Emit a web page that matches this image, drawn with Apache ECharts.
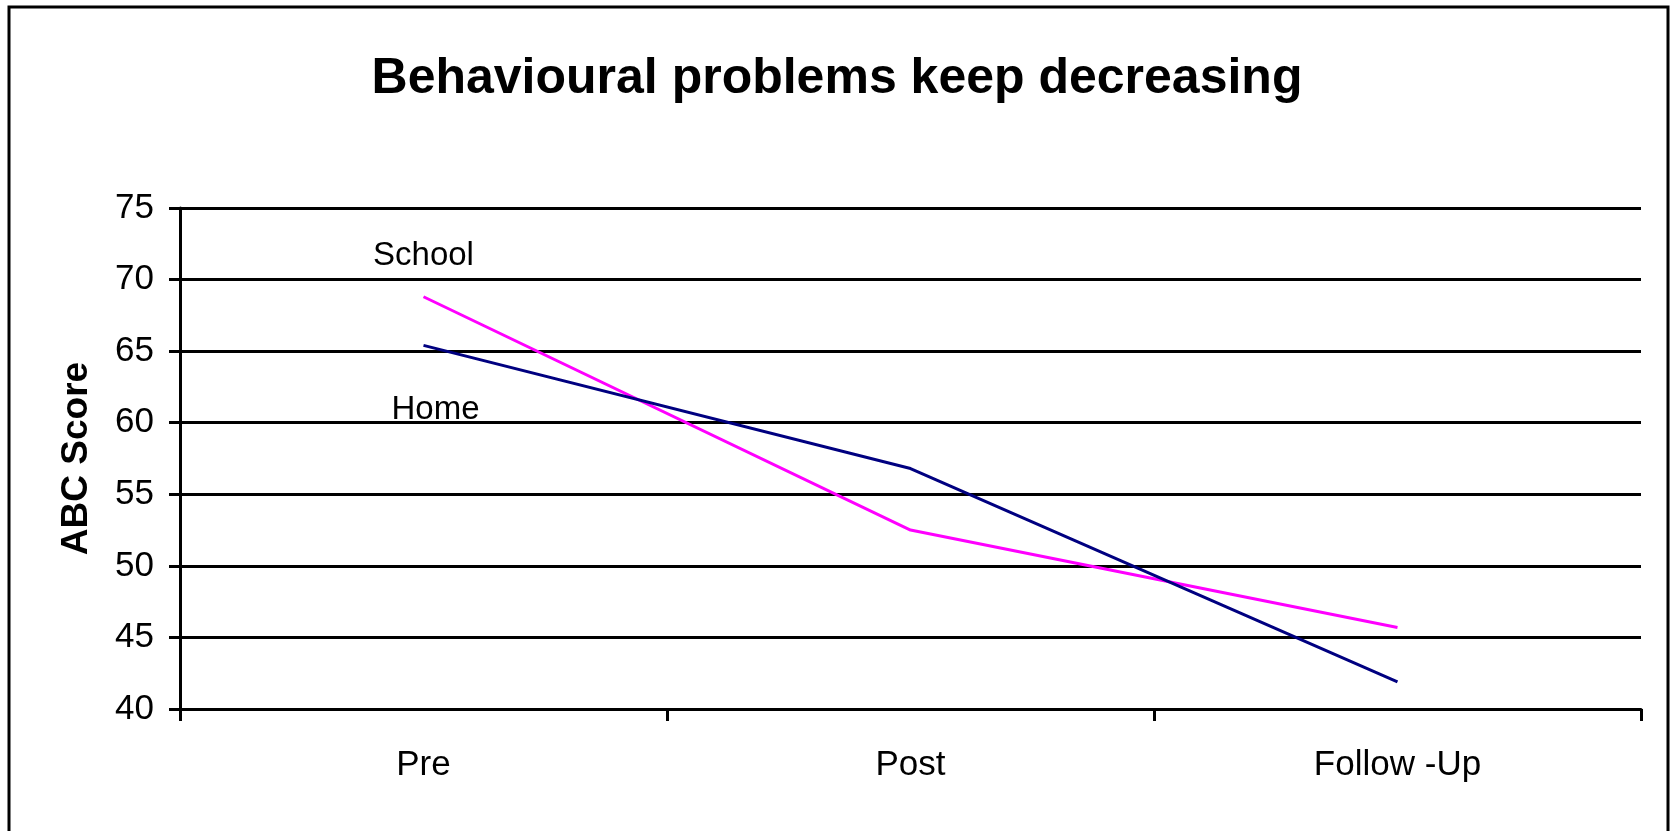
<!DOCTYPE html>
<html>
<head>
<meta charset="utf-8">
<script src="https://cdn.jsdelivr.net/npm/echarts@6/dist/echarts.min.js"></script>
<style>
  html, body { margin: 0; padding: 0; background: #fff; }
  #chart { width: 1674px; height: 831px; }
</style>
</head>
<body>
<div id="chart"></div>
<script>
// data
var stages = ['Pre', 'Post', 'Follow -Up'];
var schoolScores = [68.8, 52.5, 45.7];
var homeScores = [65.4, 56.8, 41.9];
var yTicks = { min: 40, max: 75, step: 5 };

var font = '"Liberation Sans", Arial, sans-serif';

var chart = echarts.init(document.getElementById('chart'));

// only the first point carries the series name
function withFirstLabel(values, text, offset) {
    return values.map(function(v, i) {
        if (i !== 0) return v;
        return {
            value: v,
            label: {
                show: true,
                formatter: text,
                position: 'inside',
                offset: offset,
                color: '#000',
                fontFamily: font,
                fontSize: 33
            }
        };
    });
}

var option = {
    backgroundColor: '#fff',
    animation: false,
    title: {
        text: 'Behavioural problems keep decreasing',
        left: 'center',
        top: 49,
        textStyle: {
            fontFamily: font,
            fontWeight: 'bold',
            fontSize: 50,
            color: '#000'
        }
    },
    graphic: [{
        type: 'rect',
        shape: { x: 9, y: 7, width: 1659, height: 900 },
        style: { fill: 'none', stroke: '#000', lineWidth: 3 },
        silent: true
    }],
    grid: {
        left: 180,
        right: 33,
        top: 208,
        bottom: 122,
        outerBoundsMode: 'none'
    },
    xAxis: {
        type: 'category',
        data: stages,
        boundaryGap: true,
        axisLine: { lineStyle: { color: '#000', width: 3 } },
        axisTick: { show: true, length: 12, lineStyle: { color: '#000', width: 3 } },
        axisLabel: {
            margin: 39,
            color: '#000',
            fontFamily: font,
            fontSize: 35
        },
        splitLine: { show: false }
    },
    yAxis: {
        type: 'value',
        min: yTicks.min,
        max: yTicks.max,
        interval: yTicks.step,
        name: 'ABC Score',
        nameLocation: 'middle',
        nameGap: 85,
        nameTextStyle: {
            fontFamily: font,
            fontWeight: 'bold',
            fontSize: 37,
            color: '#000'
        },
        axisLine: { show: true, lineStyle: { color: '#000', width: 3 } },
        axisTick: { show: true, length: 11, lineStyle: { color: '#000', width: 3 } },
        axisLabel: {
            margin: 26,
            color: '#000',
            fontFamily: font,
            fontSize: 35
        },
        splitLine: { show: true, lineStyle: { color: '#000', width: 3 } }
    },
    series: [
        {
            name: 'School',
            type: 'line',
            data: withFirstLabel(schoolScores, 'School', [0, -41]),
            symbol: 'circle',
            symbolSize: 0,
            lineStyle: { color: '#ff00ff', width: 3 },
            itemStyle: { color: '#ff00ff' },
            z: 3
        },
        {
            name: 'Home',
            type: 'line',
            data: withFirstLabel(homeScores, 'Home', [12, 64]),
            symbol: 'circle',
            symbolSize: 0,
            lineStyle: { color: '#000080', width: 3 },
            itemStyle: { color: '#000080' },
            z: 4
        }
    ]
};

chart.setOption(option);
</script>
</body>
</html>
